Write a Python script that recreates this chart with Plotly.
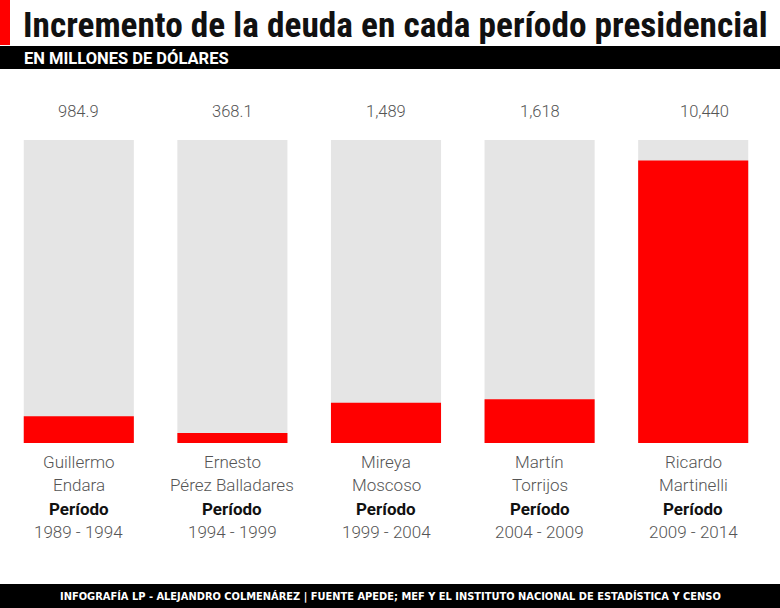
import plotly.graph_objects as go

# ---- data ----
presidents_line1 = ["Guillermo", "Ernesto", "Mireya", "Martín", "Ricardo"]
presidents_line2 = ["Endara", "Pérez Balladares", "Moscoso", "Torrijos", "Martinelli"]
periods = ["1989 - 1994", "1994 - 1999", "1999 - 2004", "2004 - 2009", "2009 - 2014"]
debt_increase = [984.9, 368.1, 1489, 1618, 10440]
value_labels = ["984.9", "368.1", "1,489", "1,618", "10,440"]
track_max = [11200, 11200, 11200, 11200, 11200]

W, H = 780, 608
TOP, BOTTOM = 140, 443
L, R = 2, 10
RED = "#ff0000"
GRAY = "#e5e5e5"
TXT = "#555555"
LABEL_FONT = "Roboto, 'Noto Sans', sans-serif"
TITLE_FONT = "'Roboto Condensed', Roboto, sans-serif"
LABEL_XSHIFT = [0, 0, 0, 0, 11]

xs = list(range(len(debt_increase)))
bar_w = 110 / 153.5
ph = BOTTOM - TOP
pw = W - L - R


def py(pix):
    return (BOTTOM - pix) / ph


def px(pix):
    return (pix - L) / pw


fig = go.Figure()
fig.add_trace(go.Bar(x=xs, y=track_max, width=bar_w, marker=dict(color=GRAY, line=dict(width=0)),
                     hoverinfo="skip", showlegend=False))
fig.add_trace(go.Bar(x=xs, y=debt_increase, width=bar_w, marker=dict(color=RED, line=dict(width=0)),
                     showlegend=False))

ann = []
for i in xs:
    ann.append(dict(x=i, xref="x", y=py(111), yref="paper", yanchor="middle", xshift=LABEL_XSHIFT[i],
                    text=value_labels[i], showarrow=False,
                    font=dict(family=LABEL_FONT, size=16.5, color=TXT, weight=300)))
    for txt, cy, bold in [(presidents_line1[i], 462, False), (presidents_line2[i], 485, False),
                          ("Período", 509, True), (periods[i], 532, False)]:
        ann.append(dict(x=i, xref="x", y=py(cy), yref="paper", yanchor="middle",
                        text=f"<b>{txt}</b>" if bold else txt, showarrow=False,
                        font=dict(family=LABEL_FONT, size=17,
                                  color="#111111" if bold else TXT,
                                  weight=700 if bold else 300)))

ann.append(dict(x=px(21), xref="paper", y=py(25), yref="paper", xanchor="left", yanchor="middle",
                text="<b>Incremento de la deuda en cada período presidencial</b>", showarrow=False,
                font=dict(family=TITLE_FONT, size=35.3, color="#111111")))
ann.append(dict(x=px(22), xref="paper", y=py(58), yref="paper", xanchor="left", yanchor="middle",
                text="<b>EN MILLONES DE DÓLARES</b>", showarrow=False,
                font=dict(family=LABEL_FONT, size=16.5, color="white")))
ann.append(dict(x=px(390), xref="paper", y=py(596), yref="paper", xanchor="center", yanchor="middle",
                text="<b>INFOGRAFÍA LP - ALEJANDRO COLMENÁREZ | FUENTE APEDE; MEF Y EL INSTITUTO NACIONAL DE ESTADÍSTICA Y CENSO</b>",
                showarrow=False, font=dict(family="'DejaVu Sans', sans-serif", size=9.9, color="white")))

shapes = [
    dict(type="rect", xref="paper", yref="paper", x0=px(0), x1=px(W), y0=py(69), y1=py(46),
         fillcolor="black", line=dict(width=0), layer="above"),
    dict(type="rect", xref="paper", yref="paper", x0=px(0), x1=px(10), y0=py(45), y1=py(0),
         fillcolor=RED, line=dict(width=0), layer="above"),
    dict(type="rect", xref="paper", yref="paper", x0=px(0), x1=px(W), y0=py(H), y1=py(584),
         fillcolor="black", line=dict(width=0), layer="above"),
]

fig.update_layout(
    width=W, height=H,
    margin=dict(l=L, r=R, t=TOP, b=H - BOTTOM, pad=0),
    paper_bgcolor="white", plot_bgcolor="white",
    barmode="overlay",
    xaxis=dict(range=[-0.5, 4.5], visible=False, fixedrange=True),
    yaxis=dict(range=[0, 11200], visible=False, fixedrange=True),
    annotations=ann, shapes=shapes,
)
fig.write_html("out.html", config={"displayModeBar": False},
               post_script="document.body.style.margin='0';document.body.style.overflow='hidden';")
